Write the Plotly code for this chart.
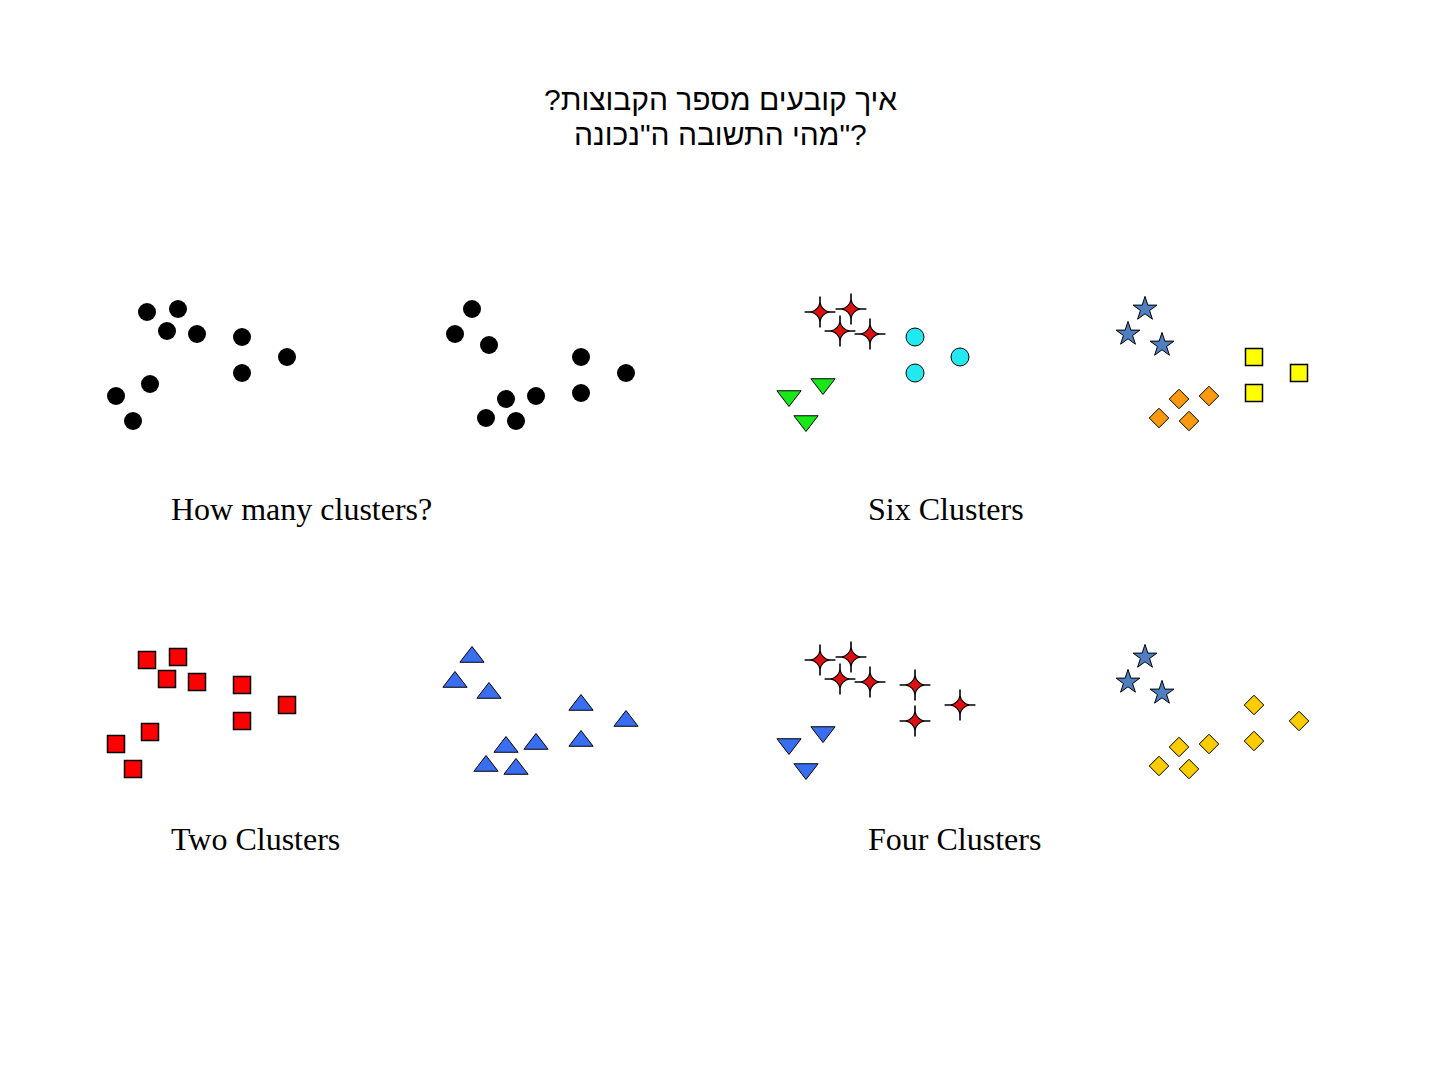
import plotly.graph_objects as go

# ---- data: the same 20 points, shown in four panels ----
point_x = [47, 78, 67, 97, 142, 187, 142, 50, 16, 33,
           372, 355, 389, 481, 526, 481, 406, 436, 386, 416]
point_y = [21, 18, 40, 43, 46, 66, 82, 93, 105, 130,
           18, 43, 54, 66, 82, 102, 108, 105, 127, 130]

unclustered = ["all"] * 20
six_clusters = ["A"] * 4 + ["B"] * 3 + ["C"] * 3 + ["D"] * 3 + ["E"] * 3 + ["F"] * 4
two_clusters = ["L"] * 10 + ["R"] * 10
four_clusters = ["P"] * 7 + ["Q"] * 3 + ["S"] * 3 + ["T"] * 7

panel_labels = ["How many clusters?", "Six Clusters", "Two Clusters", "Four Clusters"]
title_lines = ["איך קובעים מספר הקבוצות?", '?"מהי התשובה ה"נכונה']

# ---- styles ----
RLM = "\u200f"
SPARKLE = "sparkle"
styles = {
    "all": dict(symbol="circle", size=18, color="black", line=dict(width=0)),
    "A": SPARKLE,
    "B": dict(symbol="circle", size=18, color="#22e8f0", line=dict(color="black", width=1)),
    "C": dict(symbol="triangle-down", size=21, color="#18e818", line=dict(color="black", width=1)),
    "D": dict(symbol="star", size=18, color="#4f7fc0", line=dict(color="black", width=1)),
    "E": dict(symbol="square", size=17, color="#ffff00", line=dict(color="black", width=1.5)),
    "F": dict(symbol="diamond", size=15, color="#ff9a10", line=dict(color="black", width=1)),
    "L": dict(symbol="square", size=17, color="#ff0000", line=dict(color="black", width=1.5)),
    "R": dict(symbol="triangle-up", size=21, color="#3a6ef0", line=dict(color="black", width=1)),
    "P": SPARKLE,
    "Q": dict(symbol="triangle-down", size=21, color="#3a6ef0", line=dict(color="black", width=1)),
    "S": dict(symbol="star", size=18, color="#4f7fc0", line=dict(color="black", width=1)),
    "T": dict(symbol="diamond", size=15, color="#ffcc00", line=dict(color="black", width=1)),
}
sparkle_layers = [
    dict(symbol="cross-thin", size=22, color="black", line=dict(color="black", width=1.6)),
    dict(symbol="star-diamond", size=13, color="#e01010", line=dict(color="black", width=1.2)),
]

W, H = 1440, 1080
# panel origins in pixels (left, top), panel size in pixels (page has 8px body margin)
panels = [(92, 283), (765, 283), (92, 631), (765, 631)]
PW, PH = 560, 160
assignments = [unclustered, six_clusters, two_clusters, four_clusters]
label_pos = [(161, 501), (858, 501), (161, 831), (858, 831)]

fig = go.Figure()
layout_axes = {}
for i, ((ox, oy), groups) in enumerate(zip(panels, assignments)):
    n = i + 1
    xa = "x" if n == 1 else f"x{n}"
    ya = "y" if n == 1 else f"y{n}"
    for g in dict.fromkeys(groups):
        xs = [x for x, gg in zip(point_x, groups) if gg == g]
        ys = [y for y, gg in zip(point_y, groups) if gg == g]
        st = styles[g]
        layers = sparkle_layers if st == SPARKLE else [st]
        for lay in layers:
            fig.add_trace(go.Scatter(
                x=xs, y=ys, mode="markers", xaxis=xa, yaxis=ya, showlegend=False,
                marker=dict(symbol=lay["symbol"], size=lay["size"], color=lay["color"], line=lay["line"]),
                hoverinfo="skip"))
    xkey = "xaxis" if n == 1 else f"xaxis{n}"
    ykey = "yaxis" if n == 1 else f"yaxis{n}"
    layout_axes[xkey] = dict(domain=[ox / W, (ox + PW) / W], range=[0, PW], visible=False,
                             anchor=ya, fixedrange=True)
    layout_axes[ykey] = dict(domain=[1 - (oy + PH) / H, 1 - oy / H], range=[PH, 0], visible=False,
                             anchor=xa, fixedrange=True)

annotations = []
for (lx, ly), txt in zip(label_pos, panel_labels):
    annotations.append(dict(x=lx / W, y=1 - ly / H, xref="paper", yref="paper", text=txt,
                            showarrow=False, xanchor="left", yanchor="middle",
                            font=dict(family="Liberation Serif, Times New Roman, serif", size=32, color="black")))
for j, line in enumerate(title_lines):
    annotations.append(dict(x=712 / W, y=1 - (92 + 34 * j) / H, xref="paper", yref="paper",
                            text=RLM + line + RLM, showarrow=False, xanchor="center", yanchor="middle",
                            font=dict(family="Liberation Sans, Arial, sans-serif", size=30, color="black")))

fig.update_layout(width=W, height=H, margin=dict(l=0, r=0, t=0, b=0),
                  paper_bgcolor="white", plot_bgcolor="white",
                  annotations=annotations, **layout_axes)

fig.write_html("out.html")
